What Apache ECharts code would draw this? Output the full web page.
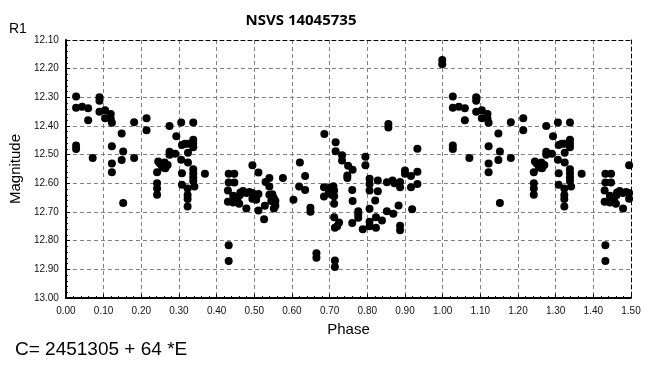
<!DOCTYPE html>
<html>
<head>
<meta charset="utf-8">
<script src="https://cdn.jsdelivr.net/npm/echarts@6/dist/echarts.min.js"></script>
<style>html,body{margin:0;padding:0;background:#fff;}#c{width:648px;height:367px;}</style>
</head>
<body>
<div id="c"></div>
<script>
const chartTitle = "NSVS 14045735";
const yAxisName = "Magnitude";
const xAxisName = "Phase";
const bandLabel = "R1";
const ephemeris = "C= 2451305 + 64 *E";

// observed phases (0..1) and magnitudes
const phases = [
  0.027,0.027,0.043,0.059,0.059,0.027,0.027,0.071,0.089,0.089,0.089,
  0.104,0.119,0.104,0.119,0.122,0.122,0.122,0.122,0.148,0.152,0.148,0.152,0.181,0.181,
  0.214,0.214,0.242,0.242,0.242,0.242,0.245,0.250,0.256,0.262,0.264,0.270,0.275,0.275,0.275,0.290,0.293,
  0.306,0.338,0.338,0.308,0.316,0.323,0.338,0.338,0.324,0.306,0.324,0.308,0.308,0.338,0.338,0.338,0.338,0.341,0.369,0.323,0.323,0.323,0.323,
  0.432,0.447,0.432,0.447,0.430,0.444,0.430,0.444,0.460,0.479,0.463,0.470,0.479,0.487,0.495,0.462,0.495,0.505,0.495,0.432,0.432,0.455,
  0.511,0.511,0.540,0.530,0.540,0.576,0.511,0.528,0.526,0.540,0.548,0.552,0.556,0.556,0.545,0.552,
  0.604,0.621,0.635,0.619,0.635,0.649,0.649,0.665,0.665,0.686,0.685,0.698,0.685,0.698,
  0.710,0.712,0.712,0.705,0.712,0.716,0.716,0.733,0.733,0.749,0.761,0.747,0.747,0.795,0.795,0.760,0.761,0.712,0.725,0.720,0.714,0.760,0.776,0.776,0.776,0.788,0.714,0.714,
  0.806,0.806,0.806,0.828,0.828,0.821,0.806,0.806,0.806,0.823,0.823,0.839,0.852,0.867,0.872,0.887,0.887,0.856,0.856,0.883,0.852,0.869,0.887,0.887,
  0.900,0.900,0.916,0.933,0.933,0.916,0.919,0.933,0.999,0.999
];
const mags = [
  12.297,12.336,12.333,12.338,12.380,12.468,12.480,12.512,12.300,12.312,12.350,
  12.345,12.358,12.373,12.375,12.389,12.471,12.531,12.561,12.426,12.489,12.519,12.669,12.387,12.512,
  12.373,12.415,12.561,12.600,12.618,12.640,12.524,12.532,12.545,12.527,12.547,12.536,12.400,12.490,12.500,12.497,12.436,
  12.388,12.388,12.448,12.466,12.462,12.462,12.462,12.474,12.493,12.518,12.527,12.565,12.605,12.551,12.565,12.579,12.592,12.611,12.567,12.618,12.641,12.655,12.681,
  12.567,12.567,12.597,12.597,12.625,12.643,12.664,12.667,12.671,12.688,12.632,12.627,12.634,12.630,12.634,12.641,12.654,12.657,12.537,12.816,12.871,12.655,
  12.562,12.637,12.581,12.595,12.611,12.581,12.695,12.678,12.725,12.640,12.638,12.652,12.662,12.678,12.662,12.688,
  12.657,12.527,12.574,12.611,12.623,12.685,12.699,12.844,12.860,12.428,12.614,12.616,12.646,12.630,
  12.610,12.625,12.645,12.640,12.671,12.457,12.488,12.502,12.520,12.539,12.553,12.573,12.581,12.507,12.537,12.623,12.662,12.718,12.737,12.750,12.755,12.738,12.697,12.709,12.720,12.760,12.869,12.892,
  12.584,12.602,12.625,12.590,12.628,12.660,12.689,12.734,12.750,12.755,12.718,12.730,12.596,12.590,12.600,12.595,12.614,12.393,12.405,12.677,12.697,12.706,12.748,12.764,
  12.555,12.567,12.574,12.560,12.602,12.614,12.690,12.479,12.170,12.185
];
const xTicks = {min: 0, max: 1.5, step: 0.1};
const yTicks = {min: 12.1, max: 13.0, step: 0.1};

// build points, repeating phase+1 up to 1.5
const pts = [];
for (let i = 0; i < phases.length; i++) {
  pts.push([phases[i], mags[i]]);
  if (phases[i] + 1 <= xTicks.max) pts.push([phases[i] + 1, mags[i]]);
}

const chart = echarts.init(document.getElementById('c'), null, {renderer: 'canvas'});
const lblFont = {color: '#111', fontSize: 10, fontFamily: 'Liberation Sans, Arial, sans-serif'};
const gridLine = {show: true, lineStyle: {color: '#808080', type: [4, 3], width: 1}};
chart.setOption({
  animation: false,
  backgroundColor: '#fff',
  title: {
    text: chartTitle, left: 296, top: 8, textAlign: 'center',
    textStyle: {fontSize: 15, fontWeight: 'bold', color: '#000', fontFamily: 'Open Sans, Liberation Sans, sans-serif'}
  },
  graphic: [
    {type: 'text', left: 9, top: 22, style: {text: bandLabel, fontSize: 14, fill: '#000', fontFamily: 'Liberation Sans, Arial, sans-serif'}},
    {type: 'text', left: 15, top: 340, style: {text: ephemeris, fontSize: 19, fill: '#000', fontFamily: 'Liberation Sans, Arial, sans-serif'}}
  ],
  grid: {left: 61, right: 17, top: 40, bottom: 69, containLabel: false},
  xAxis: [{
    type: 'value', min: xTicks.min, max: xTicks.max, interval: xTicks.step,
    name: xAxisName, nameLocation: 'middle', nameGap: 24,
    nameTextStyle: {fontSize: 15, color: '#000', fontFamily: 'Liberation Sans, Arial, sans-serif', padding: [0, 0, 0, 0]},
    axisLine: {show: true, onZero: false, lineStyle: {color: '#000', width: 2}},
    axisTick: {show: true, inside: true, length: 4, lineStyle: {color: '#000'}},
    minorTick: {show: true, splitNumber: 5, length: 2, lineStyle: {color: '#000'}},
    axisLabel: Object.assign({formatter: v => v.toFixed(2), margin: 8}, lblFont),
    splitLine: gridLine
  }, {
    type: 'value', position: 'top', min: xTicks.min, max: xTicks.max, interval: xTicks.step,
    axisLine: {show: true, onZero: false, lineStyle: {color: '#000', width: 1, type: [4, 3]}},
    axisTick: {show: false}, axisLabel: {show: false}, splitLine: {show: false}
  }],
  yAxis: [{
    type: 'value', inverse: true, min: yTicks.min, max: yTicks.max, interval: yTicks.step,
    name: yAxisName, nameLocation: 'middle', nameGap: 38,
    nameTextStyle: {fontSize: 15, color: '#000', fontFamily: 'Liberation Sans, Arial, sans-serif'},
    axisLine: {show: true, onZero: false, lineStyle: {color: '#000', width: 2}},
    axisTick: {show: true, inside: true, length: 4, lineStyle: {color: '#000'}},
    minorTick: {show: true, splitNumber: 5, length: 2, lineStyle: {color: '#000'}},
    axisLabel: Object.assign({formatter: v => v.toFixed(2), margin: 7}, lblFont),
    splitLine: gridLine
  }, {
    type: 'value', position: 'right', inverse: true, min: yTicks.min, max: yTicks.max, interval: yTicks.step,
    axisLine: {show: true, onZero: false, lineStyle: {color: '#000', width: 1, type: [4, 3]}},
    axisTick: {show: false}, axisLabel: {show: false}, splitLine: {show: false}
  }],
  series: [{
    type: 'scatter', xAxisIndex: 0, yAxisIndex: 0,
    data: pts, symbol: 'circle', symbolSize: 8,
    itemStyle: {color: '#000', opacity: 1}, clip: true
  }]
});
</script>
</body>
</html>
